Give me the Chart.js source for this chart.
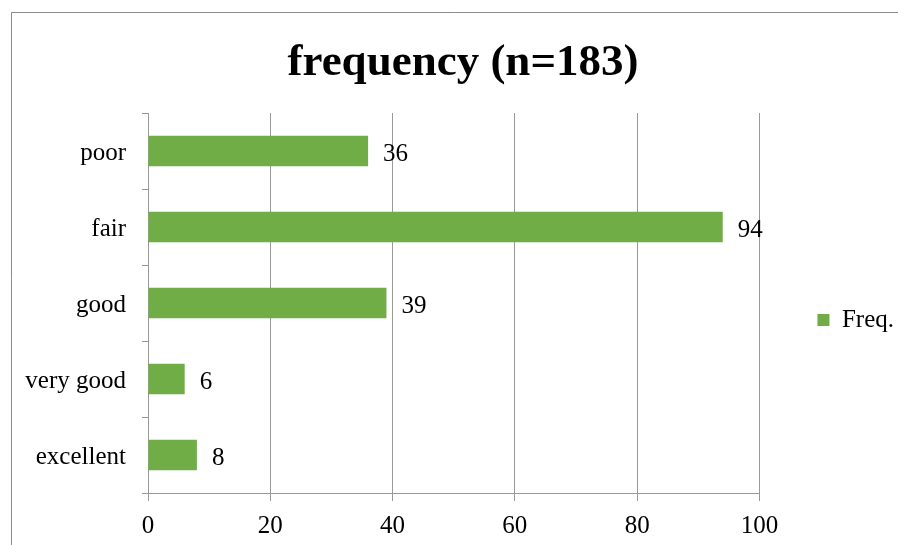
<!DOCTYPE html>
<html>
<head>
<meta charset="utf-8">
<script src="https://cdn.jsdelivr.net/npm/chart.js@4.4.1/dist/chart.umd.min.js"></script>
<style>
  html, body { margin: 0; padding: 0; background: #ffffff; }
  #wrap { width: 898px; height: 545px; position: relative; }
</style>
</head>
<body>
<div id="wrap"><canvas id="c" width="898" height="545"></canvas></div>
<script>
const titleText = 'frequency (n=183)';
const categories = ['poor', 'fair', 'good', 'very good', 'excellent'];
const seriesName = 'Freq.';
const freqValues = [36, 94, 39, 6, 8];
const xTickMin = 0;
const xTickMax = 100;
const xTickStep = 20;

const FONT = "'Liberation Serif', 'Times New Roman', serif";
const GREEN = '#70AD47';
const GRID = '#999999';

const frameBorder = {
  id: 'frameBorder',
  beforeDraw(chart) {
    const ctx = chart.ctx;
    ctx.save();
    ctx.strokeStyle = '#8c8c8c';
    ctx.lineWidth = 1;
    ctx.beginPath();
    ctx.moveTo(11.5, chart.height);
    ctx.lineTo(11.5, 12.5);
    ctx.lineTo(chart.width, 12.5);
    ctx.stroke();
    ctx.restore();
  }
};

const valueLabels = {
  id: 'valueLabels',
  afterDatasetsDraw(chart) {
    const ctx = chart.ctx;
    ctx.save();
    ctx.font = '25px ' + FONT;
    ctx.fillStyle = '#000000';
    ctx.textAlign = 'left';
    ctx.textBaseline = 'middle';
    chart.data.datasets.forEach((ds, di) => {
      const meta = chart.getDatasetMeta(di);
      meta.data.forEach((bar, i) => {
        ctx.fillText(String(ds.data[i]), bar.x + 15, bar.y + 3);
      });
    });
    ctx.restore();
  }
};

new Chart(document.getElementById('c'), {
  type: 'bar',
  data: {
    labels: categories,
    datasets: [{
      label: seriesName,
      data: freqValues,
      backgroundColor: GREEN,
      borderWidth: 0,
      categoryPercentage: 1.0,
      barPercentage: 0.4
    }]
  },
  options: {
    indexAxis: 'y',
    responsive: false,
    animation: false,
    layout: { padding: { left: 22, right: -6, top: 0, bottom: 0 } },
    plugins: {
      title: {
        display: true,
        text: titleText,
        color: '#000000',
        font: { family: FONT, size: 45, weight: 'bold', lineHeight: 1.2 },
        padding: { top: 36, bottom: 23 }
      },
      legend: {
        display: true,
        position: 'right',
        fullSize: false,
        title: {
          display: true,
          text: ' ',
          font: { family: FONT, size: 10, lineHeight: 1.2 },
          padding: 11
        },
        labels: {
          boxWidth: 12,
          boxHeight: 12,
          padding: 58,
          color: '#000000',
          font: { family: FONT, size: 25 }
        }
      },
      tooltip: { enabled: false }
    },
    scales: {
      x: {
        min: xTickMin,
        max: xTickMax,
        ticks: {
          stepSize: xTickStep,
          color: '#000000',
          padding: 10,
          font: { family: FONT, size: 25 }
        },
        grid: {
          color: GRID,
          lineWidth: 1,
          drawTicks: true,
          tickLength: 8
        },
        border: { color: GRID, width: 1 },
        afterFit(scale) { scale.height = 52; }
      },
      y: {
        ticks: {
          color: '#000000',
          padding: 16,
          labelOffset: 2,
          font: { family: FONT, size: 25 }
        },
        grid: {
          drawOnChartArea: false,
          drawTicks: true,
          tickLength: 6,
          color: GRID,
          offset: true
        },
        border: { color: GRID, width: 1 },
        afterFit(scale) { scale.width = 126; }
      }
    }
  },
  plugins: [frameBorder, valueLabels]
});
</script>
</body>
</html>
